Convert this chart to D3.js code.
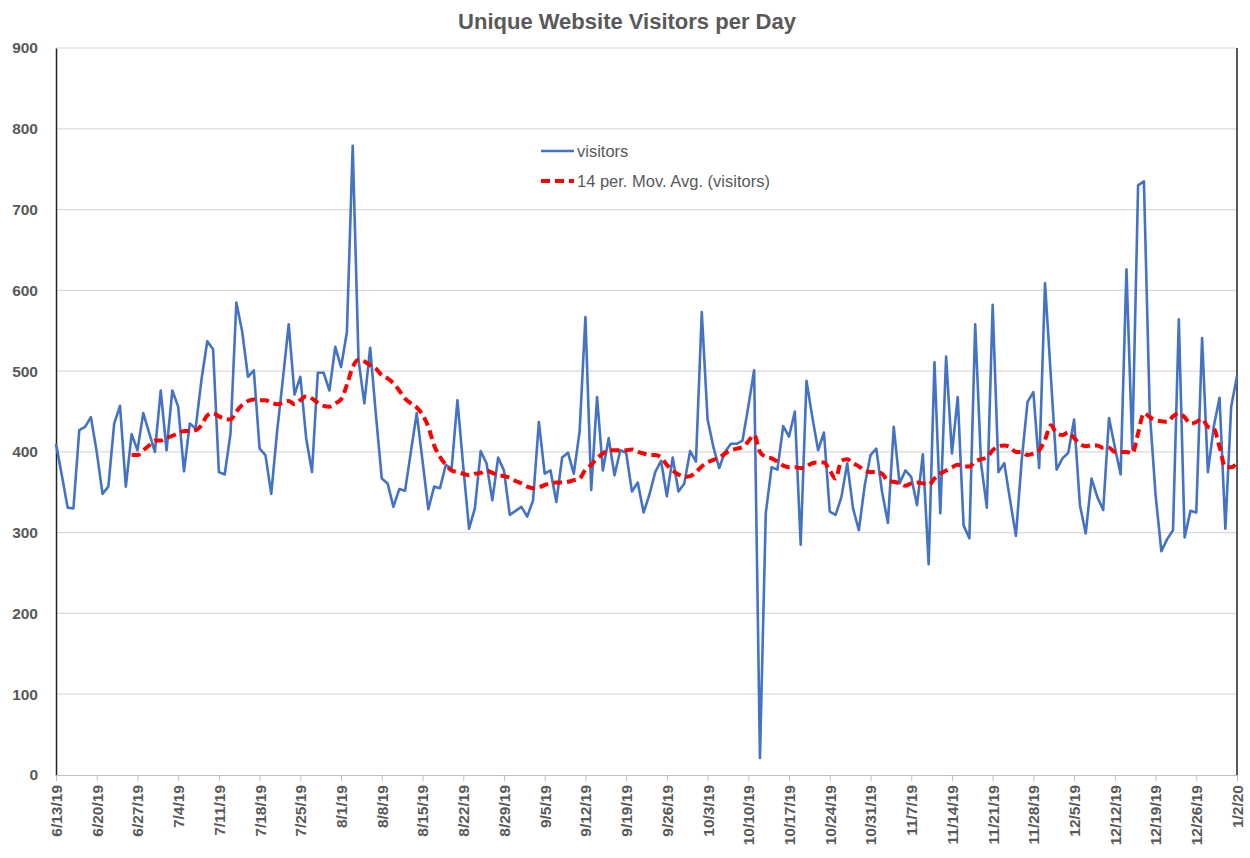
<html>
  <head>
    <script src="https://cdn.jsdelivr.net/npm/d3@7"></script>
    <style>
      body { margin: 0; background: #fff; }
      .axis-label { font-family: "Liberation Sans", Arial, sans-serif; fill: #595959; }
    </style>
  </head>

  <body>
    <div id="chart"></div>
  </body>

  <script>
    // first day of the series, one value per day after it
    let startDate = "6/13/19"

    // daily unique visitors
    let visitors = [
      410, 371, 331, 330, 427, 431, 443, 400, 348, 357, 435, 457, 357, 422, 402, 448, 424, 400, 476, 402,
      476, 456, 376, 435, 429, 489, 537, 527, 375, 372, 423, 585, 549, 493, 501, 404, 396, 348, 425, 490,
      558, 471, 493, 417, 375, 498, 498, 476, 530, 505, 548, 779, 514, 460, 529, 445, 367, 361, 332, 354,
      352, 400, 448, 389, 329, 357, 355, 384, 379, 464, 382, 305, 330, 401, 386, 340, 393, 377, 322, 327,
      332, 320, 340, 437, 373, 377, 338, 393, 399, 373, 425, 567, 353, 468, 377, 417, 371, 402, 399, 351,
      362, 325, 347, 375, 389, 345, 393, 351, 361, 401, 388, 573, 440, 406, 380, 400, 410, 410, 414, 456,
      501, 21, 324, 381, 378, 432, 419, 450, 285, 488, 443, 402, 424, 326, 322, 344, 386, 330, 303, 358,
      396, 404, 350, 312, 431, 361, 377, 369, 334, 397, 261, 511, 324, 518, 398, 468, 309, 293, 558, 386,
      331, 582, 375, 386, 340, 296, 390, 462, 474, 380, 609, 494, 378, 392, 399, 440, 334, 299, 367, 344,
      328, 442, 406, 372, 626, 404, 730, 735, 450, 347, 277, 292, 303, 564, 294, 327, 325, 541, 375, 431,
      467, 305, 456, 494
    ]

    // 14 period moving average as drawn, starting on day index 13
    let maStart = 13
    let movingAvg = [
      396, 396, 402, 408, 414, 414, 417, 420, 423, 426, 426, 427, 433, 445,
      448, 444, 441, 440, 450, 458, 463, 465, 464, 464, 461, 459, 461, 463,
      459, 464, 469, 466, 461, 457, 456, 460, 465, 483, 505, 514, 512, 507,
      503, 495, 491, 485, 476, 466, 460, 455, 446, 431, 408, 394, 384, 377,
      375, 373, 371, 373, 374, 377, 374, 371, 370, 368, 364, 361, 357, 355,
      356, 359, 361, 362, 362, 363, 365, 367, 378, 384, 392, 398, 402, 402,
      402, 402, 403, 400, 398, 396, 396, 393, 384, 377, 372, 369, 370, 375,
      382, 387, 390, 393, 398, 402, 404, 406, 413, 421, 400, 394, 392, 388,
      383, 381, 381, 380, 382, 386, 387, 387, 377, 367, 389, 391, 386, 382,
      377, 375, 375, 373, 364, 363, 361, 358, 361, 362, 361, 359, 367, 373,
      377, 381, 384, 382, 382, 388, 391, 393, 402, 407, 408, 406, 400, 400,
      396, 398, 402, 415, 433, 423, 421, 424, 417, 410, 407, 408, 408, 405,
      405, 400, 400, 400, 398, 423, 448, 443, 439, 438, 437, 444, 448, 443,
      435, 437, 441, 431, 429, 406, 381, 381, 386
    ]

    // weekly x axis labels
    let tickLabels = [
      "6/13/19", "6/20/19", "6/27/19", "7/4/19", "7/11/19", "7/18/19", "7/25/19", "8/1/19",
      "8/8/19", "8/15/19", "8/22/19", "8/29/19", "9/5/19", "9/12/19", "9/19/19", "9/26/19",
      "10/3/19", "10/10/19", "10/17/19", "10/24/19", "10/31/19", "11/7/19", "11/14/19", "11/21/19",
      "11/28/19", "12/5/19", "12/12/19", "12/19/19", "12/26/19", "1/2/20"
    ]

    let yTicks = [0, 100, 200, 300, 400, 500, 600, 700, 800, 900]

    let seriesNames = ["visitors", "14 per. Mov. Avg. (visitors)"]

    function createLineChart () {
      let width = 1250, height = 858
      let plot = {left: 56, right: 1237, top: 48, bottom: 775}

      let parseDate = d3.timeParse("%m/%d/%y")
      let day0 = parseDate(startDate)
      let tickDates = tickLabels.map(parseDate)

      let svg = d3.select("#chart")
        .append("svg")
        .attr("width", width)
        .attr("height", height)

      let x = d3.scaleTime()
        .domain([day0, tickDates[tickDates.length - 1]])
        .range([plot.left, plot.right])

      let y = d3.scaleLinear()
        .domain([0, 900])
        .range([plot.bottom, plot.top])

      // title
      svg.append("text")
        .attr("class", "axis-label")
        .attr("x", 627)
        .attr("y", 29)
        .attr("text-anchor", "middle")
        .style("font-size", "22px")
        .style("font-weight", "bold")
        .text("Unique Website Visitors per Day")

      // horizontal gridlines
      svg.append("g")
        .selectAll("line")
        .data(yTicks.filter(d => d > 0))
        .enter().append("line")
        .attr("x1", plot.left)
        .attr("x2", plot.right)
        .attr("y1", d => y(d))
        .attr("y2", d => y(d))
        .attr("stroke", "#d9d9d9")
        .attr("stroke-width", 1.2)

      // Y axis labels
      let yAxis = svg.append("g")
        .attr("transform", "translate(" + plot.left + ",0)")
        .call(d3.axisLeft(y).tickValues(yTicks).tickSize(0).tickPadding(18))
      yAxis.select(".domain").attr("stroke", "#222").attr("stroke-width", 1.5)
      yAxis.selectAll("text")
        .attr("class", "axis-label")
        .style("font-size", "15.5px")
        .style("font-weight", "bold")

      // right border line
      svg.append("line")
        .attr("x1", plot.right).attr("x2", plot.right)
        .attr("y1", plot.top).attr("y2", plot.bottom)
        .attr("stroke", "#222")
        .attr("stroke-width", 1.5)

      // X axis with weekly ticks
      let xAxis = svg.append("g")
        .attr("transform", "translate(0," + plot.bottom + ")")
        .call(d3.axisBottom(x)
          .tickValues(tickDates)
          .tickSize(6)
          .tickFormat((d, i) => tickLabels[i]))
      xAxis.select(".domain").attr("stroke", "#bfbfbf").attr("stroke-width", 1.2)
      xAxis.selectAll(".tick line").attr("stroke", "#bfbfbf")
      xAxis.selectAll("text")
        .attr("class", "axis-label")
        .style("font-size", "15.5px")
        .style("font-weight", "bold")
        .attr("text-anchor", "end")
        .attr("transform", "rotate(-90)")
        .attr("x", -10)
        .attr("y", 0)
        .attr("dy", "0.35em")

      // visitors line
      let line = d3.line()
        .x((d, i) => x(d3.timeDay.offset(day0, i)))
        .y(d => y(d))

      svg.append("path")
        .datum(visitors)
        .attr("fill", "none")
        .attr("stroke", "#4472c4")
        .attr("stroke-width", 2.6)
        .attr("stroke-linejoin", "round")
        .attr("d", line)

      // moving average line
      let maLine = d3.line()
        .x((d, i) => x(d3.timeDay.offset(day0, i + maStart)))
        .y(d => y(d))
        .curve(d3.curveMonotoneX)

      svg.append("path")
        .datum(movingAvg)
        .attr("fill", "none")
        .attr("stroke", "#ff0000")
        .attr("stroke-width", 4)
        .attr("stroke-dasharray", "9,5")
        .attr("d", maLine)

      // legend
      let legend = svg.append("g")
        .selectAll("g")
        .data(seriesNames)
        .enter().append("g")
        .attr("transform", (d, i) => "translate(541," + (151 + i * 30) + ")")

      legend.append("line")
        .attr("x1", 0)
        .attr("x2", 33)
        .attr("stroke", (d, i) => i == 0 ? "#4472c4" : "#ff0000")
        .attr("stroke-width", (d, i) => i == 0 ? 2.6 : 4)
        .attr("stroke-dasharray", (d, i) => i == 0 ? null : "9,5")

      legend.append("text")
        .attr("class", "axis-label")
        .attr("x", 36)
        .attr("dy", "0.35em")
        .style("font-size", "16.5px")
        .text(d => d)
    }

    createLineChart()
  </script>
</html>
